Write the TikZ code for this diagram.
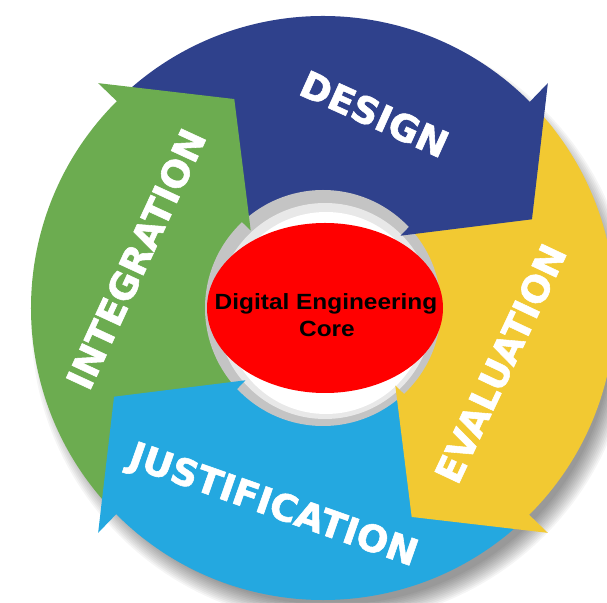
\documentclass[tikz,border=0pt]{standalone}
\usepackage{fontspec}
\usetikzlibrary{shapes.geometric}
\newfontfamily\labfont{DejaVu Sans}[BoldFeatures={FakeBold=1.5}]
\newfontfamily\corefont{Liberation Sans}
\definecolor{dblue}{RGB}{47,65,140}
\definecolor{ayellow}{RGB}{242,201,50}
\definecolor{lblue}{RGB}{36,168,224}
\definecolor{agreen}{RGB}{108,172,80}
\definecolor{ringgray}{RGB}{196,196,196}
\tikzset{
  steplabel/.style={font=\labfont\bfseries\fontsize{37}{37}\selectfont, text=white,
    text height=27pt, text depth=0pt, inner sep=0pt},
  coretext/.style={font=\corefont\bfseries\fontsize{22}{22}\selectfont, text=black,
    inner sep=0pt, anchor=base}
}
\begin{document}
\begin{tikzpicture}[x=1pt,y=1pt]
\useasboundingbox (0,0) rectangle (607,602);
\clip (0,0) rectangle (607,602);
\fill[white] (0,0) rectangle (607,602);
\begin{scope}[shift={(323,294)}]
  % drop shadow
  \foreach \k in {0,...,11}
    \fill[black,opacity=0.04] (9,-15) circle[radius=282pt+1.7pt*\k];
  % arrow bodies
  \foreach \a/\c in {45/dblue,-45/ayellow,-135/lblue,135/agreen}
    \fill[\c] (\a-2:116pt) arc[start angle=\a-2, end angle=\a+88, radius=116pt]
      -- (\a+88:292pt) arc[start angle=\a+88, end angle=\a-2, radius=292pt] -- cycle;
  % inner ring
  \fill[ringgray] (0,0) circle[radius=118pt];
  \fill[gray!18] (2,-3) circle[radius=108pt];
  \fill[white] (3,-5) circle[radius=101pt];
  % arrow heads
  \foreach \a/\c in {45/dblue,-45/ayellow,-135/lblue,135/agreen}
    \fill[\c] (\a:318pt) -- (\a-22:227pt) -- (\a-2:106pt) -- cycle;
  % core
  \node[ellipse, fill=red, minimum width=236pt, minimum height=170pt, inner sep=0pt] (core) at (2,0) {};
\end{scope}
\node[steplabel, rotate=-24.3] (design) at (374.5,488) {DESIGN};
\node[steplabel, rotate=64.8] (evaluation) at (500.5,238.5) {EVALUATION};
\node[steplabel, rotate=-19.4] (justification) at (274,98.5) {JUSTIFICATION};
\node[steplabel, rotate=65.2] (integration) at (136,343) {INTEGRATION};
\node[coretext] (core1) at (326,292) {\scalebox{1.11}[1]{Digital Engineering}};
\node[coretext] (core2) at (327,265) {\scalebox{1.11}[1]{Core}};
\end{tikzpicture}
\end{document}
